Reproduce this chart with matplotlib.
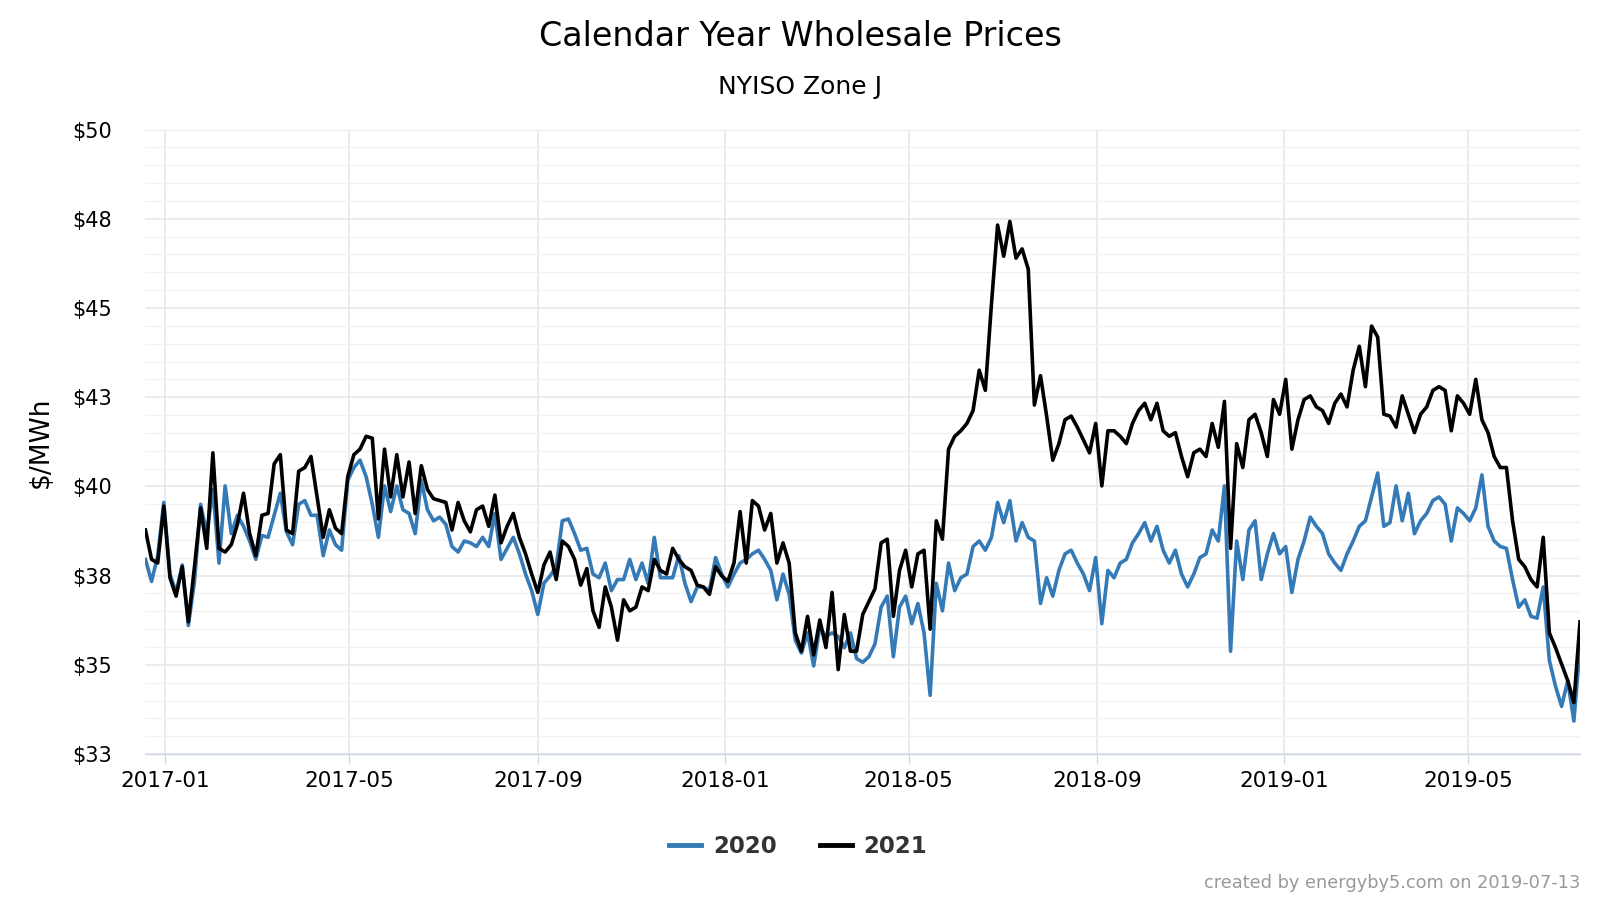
import pandas as pd
import matplotlib
matplotlib.use("Agg")
import matplotlib.pyplot as plt
import matplotlib.dates as mdates
import numpy as np

# readings every 4 days, 2016-12-19 .. 2019-07-13
start_date = "2016-12-19"
step_days = 4

cal_2020 = [
    38.3, 37.7, 38.4, 39.85, 37.9, 37.4, 38.15, 36.5, 37.7, 39.8,
    39.0, 40.2, 38.2, 40.3, 39.0, 39.5, 39.2, 38.8, 38.3, 38.95,
    38.9, 39.5, 40.1, 39.05, 38.7, 39.8, 39.9, 39.5, 39.5, 38.4,
    39.1, 38.7, 38.55, 40.45, 40.8, 41.0, 40.55, 39.8, 38.9, 40.3,
    39.6, 40.3, 39.65, 39.55, 39.0, 40.45, 39.65, 39.35, 39.45, 39.25,
    38.65, 38.5, 38.8, 38.75, 38.65, 38.9, 38.65, 39.55, 38.3, 38.6,
    38.9, 38.45, 37.9, 37.45, 36.8, 37.65, 37.85, 38.1, 39.35, 39.4,
    39.0, 38.55, 38.6, 37.9, 37.8, 38.2, 37.45, 37.75, 37.75, 38.3,
    37.75, 38.2, 37.65, 38.9, 37.8, 37.8, 37.8, 38.4, 37.65, 37.15,
    37.55, 37.55, 37.45, 38.35, 37.9, 37.55, 37.9, 38.2, 38.3, 38.45,
    38.55, 38.3, 38.0, 37.2, 37.9, 37.35, 36.1, 35.75, 36.3, 35.4,
    36.45, 36.2, 36.3, 36.2, 35.9, 36.3, 35.6, 35.5, 35.65, 36.0,
    37.0, 37.3, 35.65, 37.0, 37.3, 36.55, 37.1, 36.3, 34.6, 37.65,
    36.9, 38.2, 37.45, 37.8, 37.9, 38.65, 38.8, 38.55, 38.9, 39.85,
    39.3, 39.9, 38.8, 39.3, 38.9, 38.8, 37.1, 37.8, 37.3, 38.0,
    38.45, 38.55, 38.2, 37.9, 37.45, 38.35, 36.55, 38.0, 37.8, 38.2,
    38.3, 38.75, 39.0, 39.3, 38.8, 39.2, 38.55, 38.2, 38.55, 37.9,
    37.55, 37.9, 38.35, 38.45, 39.1, 38.8, 40.3, 35.8, 38.8, 37.75,
    39.1, 39.35, 37.75, 38.45, 39.0, 38.45, 38.65, 37.4, 38.3, 38.8,
    39.45, 39.2, 39.0, 38.45, 38.2, 38.0, 38.45, 38.8, 39.2, 39.35,
    40.0, 40.65, 39.2, 39.3, 40.3, 39.35, 40.1, 39.0, 39.35, 39.55,
    39.9, 40.0, 39.8, 38.8, 39.7, 39.55, 39.35, 39.7, 40.6, 39.2,
    38.8, 38.65, 38.6, 37.75, 37.0, 37.2, 36.75, 36.7, 37.55, 35.55,
    34.85, 34.3, 35.0, 33.9, 35.9,
]

cal_2021 = [
    39.1, 38.3, 38.2, 39.75, 37.8, 37.3, 38.1, 36.6, 38.1, 39.7,
    38.6, 41.2, 38.6, 38.5, 38.7, 39.25, 40.1, 39.0, 38.4, 39.5,
    39.55, 40.9, 41.15, 39.1, 39.0, 40.7, 40.8, 41.1, 40.0, 38.9,
    39.65, 39.15, 39.0, 40.55, 41.15, 41.3, 41.65, 41.6, 39.4, 41.3,
    40.0, 41.15, 40.0, 40.95, 39.55, 40.85, 40.2, 39.95, 39.9, 39.85,
    39.1, 39.85, 39.35, 39.05, 39.65, 39.75, 39.2, 40.05, 38.75, 39.2,
    39.55, 38.9, 38.45, 37.9, 37.4, 38.15, 38.5, 37.75, 38.8, 38.65,
    38.3, 37.6, 38.05, 36.9, 36.45, 37.55, 37.0, 36.1, 37.2, 36.9,
    37.0, 37.55, 37.45, 38.3, 38.0, 37.9, 38.6, 38.3, 38.1, 38.0,
    37.6, 37.55, 37.35, 38.1, 37.85, 37.7, 38.2, 39.6, 38.2, 39.9,
    39.75, 39.1, 39.55, 38.2, 38.75, 38.2, 36.3, 35.8, 36.75, 35.7,
    36.65, 35.9, 37.4, 35.3, 36.8, 35.8, 35.8, 36.8, 37.15, 37.5,
    38.75, 38.85, 36.75, 38.0, 38.55, 37.55, 38.45, 38.55, 36.4, 39.35,
    38.85, 41.3, 41.65, 41.8, 42.0, 42.35, 43.45, 42.9, 45.25, 47.4,
    46.55, 47.5, 46.5, 46.75, 46.2, 42.5, 43.3, 42.2, 41.0, 41.45,
    42.1, 42.2, 41.9, 41.55, 41.2, 42.0, 40.3, 41.8, 41.8, 41.65,
    41.45, 42.0, 42.35, 42.55, 42.1, 42.55, 41.8, 41.65, 41.75, 41.1,
    40.55, 41.2, 41.3, 41.1, 42.0, 41.35, 42.6, 38.6, 41.45, 40.8,
    42.1, 42.25, 41.75, 41.1, 42.65, 42.25, 43.2, 41.3, 42.1, 42.65,
    42.75, 42.45, 42.35, 42.0, 42.55, 42.8, 42.45, 43.45, 44.1, 43.0,
    44.65, 44.35, 42.25, 42.2, 41.9, 42.75, 42.25, 41.75, 42.25, 42.45,
    42.9, 43.0, 42.9, 41.8, 42.75, 42.55, 42.25, 43.2, 42.1, 41.75,
    41.1, 40.8, 40.8, 39.35, 38.3, 38.1, 37.75, 37.55, 38.9, 36.3,
    35.9, 35.45, 35.0, 34.4, 36.6,
]

series = [("2020", cal_2020, "#337ab7"), ("2021", cal_2021, "#000000")]
dates = pd.date_range(start_date, periods=len(cal_2020), freq=f"{step_days}D")

y_min, y_max = 33, 50
tick_dates = pd.date_range("2017-01-01", "2019-05-01", freq="4MS")

fig = plt.figure(figsize=(16, 9), dpi=100)
ax = fig.add_axes([0.0909, 0.1621, 0.8966, 0.694])

for name, vals, col in series:
    ax.plot(dates, vals, color=col, lw=2.6, label=name, solid_joinstyle="round")

ax.set_xlim(dates[0], dates[-1])
ax.set_ylim(y_min, y_max)

major = np.linspace(y_min, y_max, 8)
minor = np.linspace(y_min, y_max, 36)
ax.set_yticks(major)
ax.set_yticklabels([f"${v:.0f}" for v in major])
ax.set_yticks(minor, minor=True)
ax.set_xticks(tick_dates)
ax.xaxis.set_major_formatter(mdates.DateFormatter("%Y-%m"))

ax.grid(axis="y", which="major", color="#e6e6e6", lw=1.1)
ax.grid(axis="y", which="minor", color="#f2f2f2", lw=1.0)
ax.grid(axis="x", which="major", color="#e6e6e6", lw=1.1)
ax.set_axisbelow(True)

for s in ["top", "right", "left"]:
    ax.spines[s].set_visible(False)
ax.spines["bottom"].set_color("#ccd6eb")
ax.spines["bottom"].set_linewidth(1.0)

ax.tick_params(axis="y", which="both", length=0, pad=24, labelsize=15)
ax.tick_params(axis="x", which="major", length=7, color="#ccd6eb", pad=5, labelsize=15.5)

ax.set_ylabel("$/MWh", fontsize=19)
ax.yaxis.set_label_coords(-0.064, 0.5)

fig.text(0.5, 0.960, "Calendar Year Wholesale Prices", ha="center", va="center", fontsize=24)
fig.text(0.5, 0.9036, "NYISO Zone J", ha="center", va="center", fontsize=18)

leg = fig.legend(loc="center", bbox_to_anchor=(0.499, 0.059), ncol=2, frameon=False,
                 prop={"size": 16.5, "weight": "bold"}, handlelength=1.4, columnspacing=1.9,
                 handletextpad=0.5)
for line in leg.get_lines():
    line.set_linewidth(3.5)
for t in leg.get_texts():
    t.set_color("#333333")

fig.text(0.9875, 0.019, "created by energyby5.com on 2019-07-13", ha="right", va="center",
         fontsize=12.8, color="#999999")

fig.savefig("out.png", dpi=100)
